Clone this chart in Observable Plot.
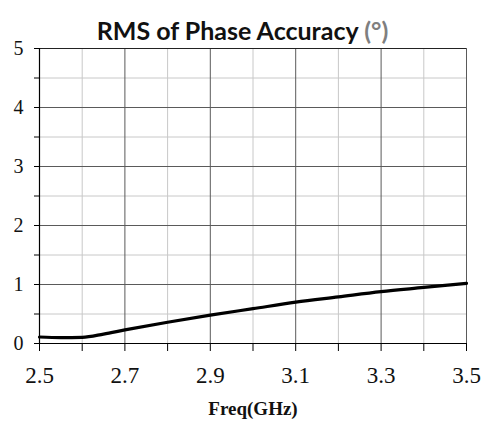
<!DOCTYPE html>
<html>
<head>
<meta charset="utf-8">
<script src="https://cdn.jsdelivr.net/npm/d3@7"></script>
<script src="https://cdn.jsdelivr.net/npm/@observablehq/plot@0.6"></script>
<style>
  html, body { margin: 0; padding: 0; background: #fff; }
  #title { position: relative; z-index: 1; width: 485px; height: 28px; box-sizing: border-box; padding-top: 18px; text-align: center;
           font-family: Lato, "Open Sans", sans-serif; font-weight: bold; font-size: 25px; line-height: 25px; color: #111; white-space: nowrap; }
  #title .unit { color: #7f7f7f; }
  #chart svg { display: block; overflow: visible; }
  #chart svg text { font-family: "Liberation Serif", "DejaVu Serif", serif !important; }
</style>
</head>
<body>
<div id="title">RMS of Phase Accuracy <span class="unit">(°)</span></div>
<div id="chart"></div>
<script>
const freq = [2.5, 2.55, 2.6, 2.65, 2.7, 2.8, 2.9, 3.0, 3.1, 3.2, 3.3, 3.4, 3.5];
const rms  = [0.11, 0.10, 0.105, 0.16, 0.23, 0.36, 0.48, 0.59, 0.70, 0.79, 0.88, 0.95, 1.02];
const xMinorGrid = [2.6, 2.8, 3.0, 3.2, 3.4];
const xMajorGrid = [2.7, 2.9, 3.1, 3.3, 3.5];
const yMinorGrid = [0.5, 1.5, 2.5, 3.5, 4.5];
const yMajorGrid = [1, 2, 3, 4];
const xTicks = [2.5, 2.6, 2.7, 2.8, 2.9, 3.0, 3.1, 3.2, 3.3, 3.4, 3.5];
const xLabels = [2.5, 2.7, 2.9, 3.1, 3.3, 3.5];
const yTicks = [0, 0.5, 1, 1.5, 2, 2.5, 3, 3.5, 4, 4.5, 5];
const yLabels = [0, 1, 2, 3, 4, 5];
const xTitle = "Freq(GHz)";

const data = freq.map((f, i) => ({f, v: rms[i]}));
const eq = (a, b) => Math.abs(a - b) < 1e-9;

const chart = Plot.plot({
  width: 485,
  height: 393,
  marginLeft: 39,
  marginRight: 19,
  marginTop: 20,
  marginBottom: 78,
  style: { background: "transparent", color: "#111" },
  x: { domain: [2.5, 3.5] },
  y: { domain: [0, 5] },
  marks: [
    Plot.ruleX(xMinorGrid, { stroke: "#c8c8c8", strokeWidth: 1 }),
    Plot.ruleY(yMinorGrid, { stroke: "#c8c8c8", strokeWidth: 1 }),
    Plot.ruleX(xMajorGrid, { stroke: "#5a5a5a", strokeWidth: 1 }),
    Plot.ruleY(yMajorGrid, { stroke: "#5a5a5a", strokeWidth: 1 }),
    Plot.ruleY([5], { stroke: "#222", strokeWidth: 1 }),
    Plot.ruleY([0], { stroke: "#000", strokeWidth: 1.2 }),
    Plot.ruleX([2.5], { stroke: "#000", strokeWidth: 1.2 }),
    Plot.axisY({ ticks: yTicks, tickSize: 5, tickPadding: 11, stroke: "#000", fontSize: 20,
      tickFormat: d => yLabels.some(l => eq(l, d)) ? String(d) : "", label: null }),
    Plot.axisX({ ticks: xTicks, tickSize: 8, tickPadding: 15, stroke: "#000", fontSize: 23,
      tickFormat: d => xLabels.some(l => eq(l, d)) ? d.toFixed(1) : "", label: null }),
    Plot.text([xTitle], { frameAnchor: "bottom", dy: 65, lineAnchor: "middle", text: d => d,
      fontWeight: "bold", fontSize: 19, fill: "#111" }),
    Plot.line(data, { x: "f", y: "v", curve: "monotone-x", stroke: "#000", strokeWidth: 3.2 })
  ]
});
document.getElementById("chart").appendChild(chart);
</script>
</body>
</html>
